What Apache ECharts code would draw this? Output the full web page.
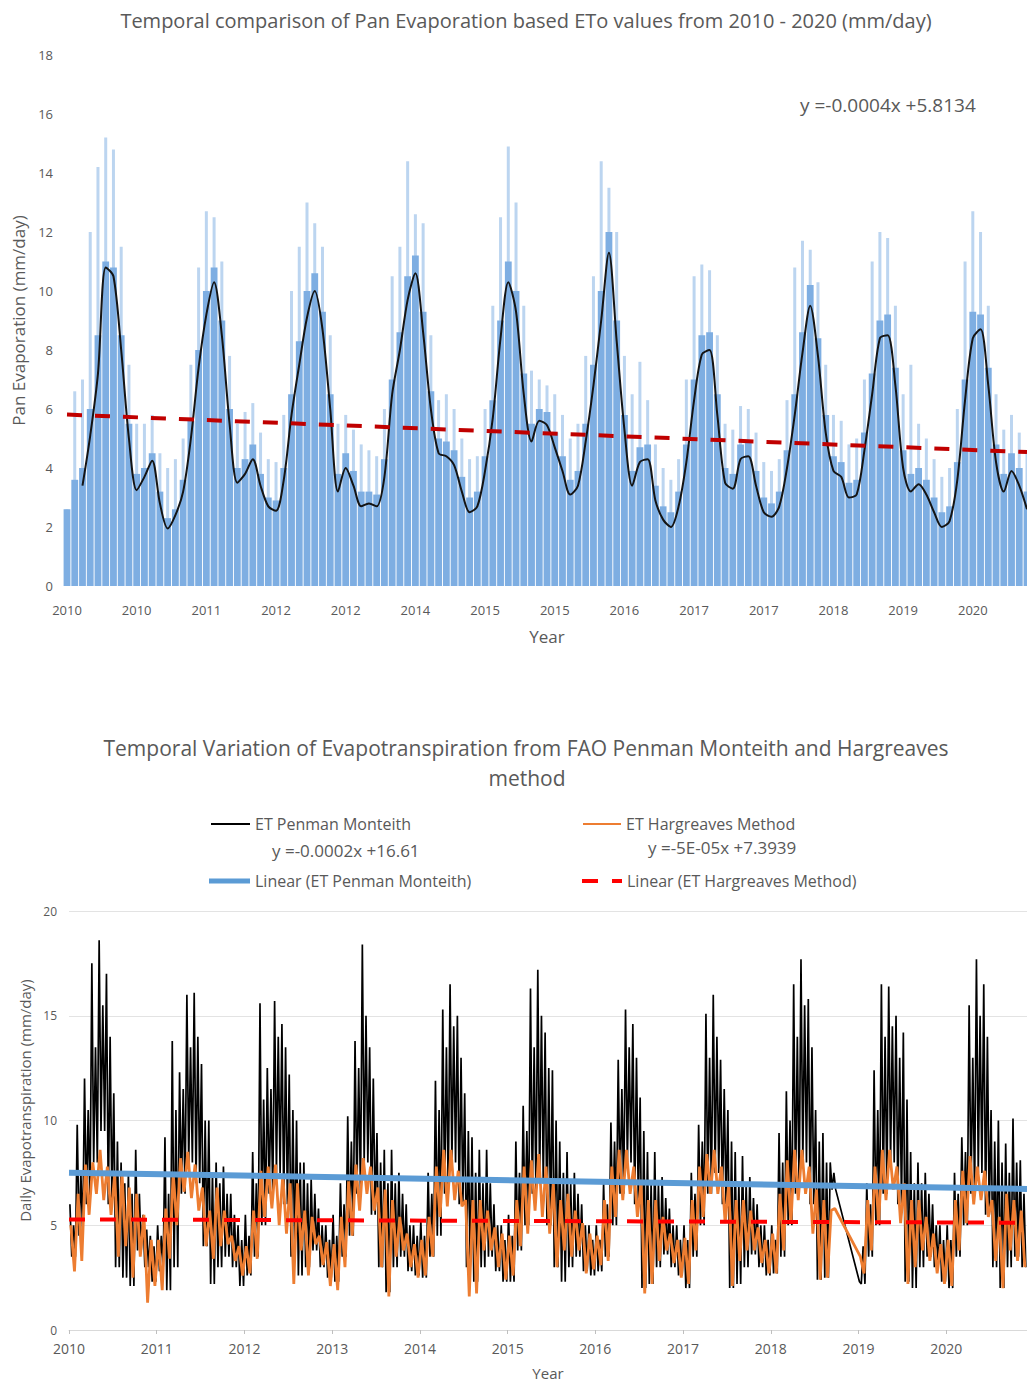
<!DOCTYPE html>
<html lang="en">
<head>
    <meta charset="UTF-8">
    <title>Evapotranspiration 2010 - 2020</title>
    <script src="https://cdn.jsdelivr.net/npm/echarts@6/dist/echarts.min.js"></script>
    <style>
        body {margin: 0; background: #fff;}
        #main {width: 1027px; height: 1385px;}
    </style>
</head>
<body>
<div id="main"></div>
<script>
    // ---- top chart: pan evaporation, one sample every ~7.7 px of the axis ----
    var panTicks = ['2010', '2010', '2011', '2012', '2012', '2014', '2015', '2015', '2016', '2017', '2017', '2018', '2019', '2020'];
    // dense blue columns
    var panBar = [
        2.6, 3.6, 4.0, 6.0, 8.5, 11.0, 10.8, 8.5, 5.5, 3.8,
        4.0, 4.5, 3.2, 2.3, 2.6, 3.6, 5.6, 8.0, 10.0, 10.8,
        9.0, 6.0, 4.0, 4.3, 4.8, 3.8, 3.0, 2.9, 4.0, 6.5,
        8.3, 10.0, 10.6, 9.3, 6.5, 3.8, 4.5, 3.9, 3.2, 3.2,
        3.1, 4.3, 7.0, 8.6, 10.5, 11.2, 9.3, 6.6, 5.0, 4.9,
        4.6, 3.7, 3.0, 3.2, 4.4, 6.3, 9.0, 11.0, 10.0, 7.2,
        5.5, 6.0, 5.9, 5.2, 4.4, 3.6, 3.9, 5.5, 7.5, 10.0,
        12.0, 9.0, 5.8, 3.9, 4.7, 4.8, 3.4, 2.7, 2.5, 3.2,
        4.8, 7.0, 8.5, 8.6, 6.5, 4.0, 3.8, 4.8, 4.9, 3.9,
        3.0, 2.8, 3.2, 4.6, 6.5, 8.6, 10.2, 8.4, 5.8, 4.4,
        4.2, 3.5, 3.6, 5.2, 7.2, 9.0, 9.2, 7.4, 4.6, 3.8,
        4.0, 3.6, 3.0, 2.5, 2.7, 4.2, 7.0, 9.3, 9.2, 7.4,
        4.8, 3.8, 4.5, 4.0, 3.2
    ];
    // faint daily spikes above the columns
    var panPeak = [
        2.6, 6.6, 7.0, 12.0, 14.2, 15.2, 14.8, 11.5, 7.5, 5.5,
        5.5, 5.8, 4.5, 4.0, 4.3, 5.0, 7.5, 10.8, 12.7, 12.5,
        11.0, 7.8, 5.5, 5.9, 6.2, 5.2, 4.3, 4.2, 5.8, 10.0,
        11.5, 13.0, 12.3, 11.5, 8.5, 5.5, 5.8, 5.3, 4.8, 4.6,
        4.4, 6.0, 10.5, 11.5, 14.4, 12.6, 12.3, 8.5, 6.3, 6.5,
        6.0, 5.0, 4.3, 4.4, 6.0, 9.5, 12.5, 14.9, 13.0, 9.5,
        7.3, 7.0, 6.8, 6.5, 5.8, 5.0, 5.5, 7.8, 10.5, 14.4,
        13.5, 12.0, 7.8, 6.5, 7.6, 6.3, 4.8, 4.0, 3.6, 4.3,
        7.0, 10.5, 10.9, 10.7, 8.5, 5.5, 5.3, 6.1, 6.0, 5.2,
        4.2, 3.9, 4.3, 6.3, 10.8, 11.7, 11.4, 10.3, 7.5, 5.8,
        5.6, 4.8, 5.0, 7.0, 11.0, 12.0, 11.8, 9.5, 6.5, 7.5,
        5.5, 5.0, 4.3, 3.7, 4.0, 6.0, 11.0, 12.7, 12.0, 9.5,
        6.5, 5.3, 5.8, 5.2, 4.5
    ];
    // black moving average
    var panAvg = [
        null, null, 3.4, 5.1, 7.2, 10.8, 10.5, 8.0, 5.0, 3.25,
        3.7, 4.25, 2.8, 1.95, 2.4, 3.2, 5.0, 7.4, 9.2, 10.3,
        8.5, 5.5, 3.5, 3.8, 4.3, 3.4, 2.7, 2.55, 3.6, 5.8,
        7.5, 9.1, 10.0, 8.7, 6.0, 3.2, 4.0, 3.4, 2.7, 2.8,
        2.7, 3.7, 6.5, 8.0, 9.7, 10.6, 8.6, 6.0, 4.5, 4.4,
        4.1, 3.2, 2.5, 2.7, 3.9, 5.7, 8.4, 10.3, 9.3, 6.5,
        4.9, 5.6, 5.45, 4.7, 3.9, 3.1, 3.4, 4.9, 6.8, 9.0,
        11.3, 8.3, 5.3, 3.4, 4.2, 4.3, 2.9, 2.25, 2.0, 2.7,
        4.2, 6.3, 7.85, 8.0, 5.8, 3.5, 3.3, 4.3, 4.4, 3.4,
        2.5, 2.35, 2.7, 4.0, 5.8, 7.9, 9.5, 7.8, 5.2, 3.9,
        3.7, 3.0, 3.1, 4.6, 6.5, 8.4, 8.5, 6.8, 4.0, 3.2,
        3.45, 3.1, 2.5, 2.0, 2.2, 3.6, 6.3, 8.4, 8.7, 6.8,
        4.2, 3.2, 3.9, 3.4, 2.6
    ];
    var panTrend = [5.81, 4.54];   // linear fit at first / last sample

    // ---- bottom chart: monthly high / typical / low of the daily values ----
    var etTicks = ['2010', '2011', '2012', '2013', '2014', '2015', '2016', '2017', '2018', '2019', '2020'];
    var etEnd = 2020.92;
    var pmHi = [
        [6.0, 9.8, 12.0, 17.5, 18.6, 17.0, 11.3, 8.0, 7.5, 8.6, 5.5, 4.5],
        [5.0, 9.2, 13.8, 12.3, 16.0, 16.1, 12.7, 10.0, 8.0, 7.8, 6.5, 5.0],
        [5.5, 8.5, 15.6, 12.5, 15.7, 14.6, 12.2, 10.0, 8.0, 7.2, 5.8, 5.0],
        [5.5, 7.0, 10.2, 13.8, 18.4, 13.5, 9.4, 8.6, 8.6, 7.5, 6.0, 5.0],
        [5.2, 7.5, 11.9, 15.3, 16.5, 15.0, 11.3, 9.2, 8.6, 8.6, 6.0, 5.0],
        [5.5, 9.0, 10.7, 16.3, 17.2, 14.2, 12.4, 9.0, 8.5, 7.5, 6.0, 5.0],
        [5.0, 7.0, 9.9, 12.9, 15.3, 14.6, 11.1, 8.5, 8.5, 7.3, 5.8, 5.0],
        [5.0, 7.5, 9.8, 15.1, 16.0, 12.9, 10.5, 8.5, 8.3, 7.3, 6.0, 5.0],
        [5.0, 9.4, 11.4, 16.5, 17.7, 15.8, 10.5, 9.4, 8.0, null, null, null],
        [2.3, 7.0, 12.4, 16.5, 16.4, 15.0, 14.2, 8.5, 8.0, 7.5, 6.0, 5.0],
        [5.0, 7.5, 9.2, 15.5, 17.7, 16.5, 10.5, 10.0, 8.9, 10.1, 8.1]
    ];
    var pmMid = [
        [5.0, 7.5, 10.5, 13.5, 15.5, 14.0, 9.0, 7.0, 6.5, 6.5, 4.8, 4.0],
        [4.5, 6.5, 10.5, 11.5, 13.5, 14.0, 10.0, 7.5, 7.0, 6.5, 5.5, 4.3],
        [4.5, 7.0, 11.0, 11.5, 14.0, 13.5, 10.5, 8.0, 7.0, 6.5, 5.0, 4.3],
        [4.5, 6.0, 9.0, 12.5, 15.0, 12.0, 8.0, 7.0, 7.0, 6.5, 5.0, 4.5],
        [4.5, 6.5, 10.5, 13.5, 14.5, 13.0, 9.5, 7.5, 7.0, 7.0, 5.0, 4.3],
        [4.5, 7.5, 9.5, 13.5, 15.0, 12.5, 10.0, 7.5, 7.0, 6.5, 5.0, 4.3],
        [4.3, 6.0, 9.0, 11.5, 13.5, 13.0, 9.5, 7.0, 7.0, 6.3, 5.0, 4.3],
        [4.3, 6.5, 9.0, 13.0, 14.0, 11.5, 9.0, 7.0, 7.0, 6.3, 5.0, 4.3],
        [4.3, 8.0, 10.0, 14.0, 15.5, 13.5, 9.0, 8.0, 7.5, null, null, null],
        [4.0, 6.0, 10.5, 14.0, 14.5, 13.0, 11.0, 7.0, 7.0, 6.5, 5.0, 4.3],
        [4.3, 6.5, 8.5, 13.0, 15.0, 14.0, 9.0, 8.0, 7.5, 8.0, 6.5]
    ];
    var pmLo = [
        [3.5, 4.5, 6.0, 8.0, 9.5, 6.0, 3.0, 2.5, 2.1, 3.8, 3.0, 2.3],
        [2.8, 1.9, 3.0, 6.5, 8.0, 7.0, 4.0, 2.2, 3.0, 3.5, 3.0, 2.1],
        [2.6, 3.5, 5.0, 6.5, 7.5, 6.0, 3.5, 2.6, 3.0, 3.8, 3.0, 2.5],
        [2.3, 3.5, 4.5, 6.5, 8.0, 5.5, 3.0, 1.8, 3.0, 3.5, 2.8, 2.6],
        [2.5, 3.5, 4.5, 6.5, 8.0, 6.0, 3.0, 2.3, 3.0, 3.5, 2.8, 2.3],
        [2.3, 3.8, 5.0, 6.5, 7.0, 5.0, 3.0, 2.3, 3.0, 3.5, 2.8, 2.6],
        [2.8, 3.5, 5.0, 6.5, 8.0, 6.0, 2.0, 2.2, 3.0, 3.6, 3.0, 2.6],
        [2.0, 3.5, 5.0, 6.5, 7.5, 6.0, 2.0, 2.2, 3.0, 3.6, 3.0, 2.6],
        [2.7, 3.5, 5.0, 6.5, 8.0, 6.0, 2.4, 2.5, 6.7, null, null, null],
        [2.2, 3.5, 5.0, 6.5, 8.0, 6.0, 2.3, 2.0, 3.0, 3.5, 3.0, 2.3],
        [2.0, 3.5, 5.0, 6.5, 7.5, 5.5, 3.0, 2.0, 3.0, 3.5, 3.0]
    ];
    var hgHi = [
        [5.0, 6.5, 7.9, 8.0, 8.6, 7.8, 7.4, 7.5, 6.8, 6.5, 5.5, 4.3],
        [4.3, 5.8, 7.5, 8.2, 8.5, 7.9, 6.8, 5.7, 6.8, 5.7, 4.5, 4.0],
        [4.0, 5.7, 7.6, 7.8, 7.9, 7.4, 7.0, 7.0, 5.7, 5.4, 4.5, 4.2],
        [4.1, 5.4, 7.1, 7.9, 8.2, 7.8, 6.8, 6.7, 6.2, 5.4, 4.6, 4.1],
        [4.3, 5.4, 7.8, 8.6, 8.6, 7.6, 6.2, 6.2, 6.2, 5.7, 4.9, 4.6],
        [4.5, 6.2, 7.8, 8.1, 8.4, 7.8, 7.0, 6.2, 6.5, 5.7, 5.1, 4.6],
        [4.5, 6.2, 7.8, 8.6, 8.6, 7.8, 7.0, 6.2, 6.2, 5.4, 4.6, 4.3],
        [4.4, 6.2, 7.8, 8.4, 8.6, 7.8, 7.0, 6.2, 6.2, 5.7, 4.9, 4.3],
        [4.6, 6.5, 8.1, 8.6, 8.6, 7.8, 6.7, 6.2, 5.7, null, null, null],
        [3.5, 6.2, 7.8, 8.6, 8.6, 7.8, 7.0, 6.2, 6.2, 5.4, 4.6, 4.1],
        [4.3, 6.2, 7.6, 8.3, 7.8, 7.6, 6.2, 5.4, 6.5, 6.2, 5.7]
    ];
    var hgLo = [
        [2.8, 3.3, 5.5, 6.5, 6.2, 5.5, 3.5, 4.0, 2.5, 3.5, 1.3, 2.1],
        [1.9, 3.4, 5.0, 6.6, 6.3, 5.7, 4.0, 3.4, 4.0, 4.1, 3.3, 2.6],
        [2.7, 3.4, 5.4, 5.8, 5.0, 4.6, 2.2, 3.8, 2.6, 4.1, 3.1, 2.1],
        [1.9, 3.0, 4.5, 5.7, 6.5, 5.7, 3.0, 1.6, 3.5, 3.8, 3.0, 2.5],
        [2.6, 3.5, 5.4, 5.9, 6.2, 5.9, 1.6, 1.75, 3.8, 3.8, 3.0, 2.4],
        [2.6, 4.0, 4.6, 5.7, 5.4, 4.6, 3.0, 3.8, 3.5, 3.8, 2.7, 2.9],
        [3.1, 3.3, 5.4, 6.2, 6.5, 5.4, 1.75, 2.2, 3.3, 3.8, 3.2, 2.5],
        [2.2, 3.8, 5.4, 6.5, 6.5, 5.1, 2.1, 3.3, 3.8, 3.8, 3.2, 2.7],
        [2.7, 3.8, 5.1, 6.2, 6.5, 4.6, 2.4, 2.5, 5.8, null, null, null],
        [2.7, 3.8, 5.1, 6.2, 6.7, 5.1, 2.2, 3.0, 3.8, 3.3, 2.7, 2.2],
        [2.1, 3.8, 5.1, 6.0, 6.2, 5.4, 3.3, 2.0, 3.8, 3.3, 3.0]
    ];
    var pmTrend = [7.51, 6.73];
    var hgTrend = [5.28, 5.12];

    // walk through each month in turn over the read levels, so the line zigzags like daily data
    function monthPoints(levels) {
        var pts = [];
        var years = levels[0];
        for (var y = 0; y < years.length; y++) {
            for (var m = 0; m < years[y].length; m++) {
                var x0 = 2010 + y + m / 12;
                for (var k = 0; k < levels.length; k++) {
                    var v = levels[k][y][m];
                    pts.push([x0 + (k + 0.5) / (12 * levels.length), v == null ? '-' : v]);
                }
            }
        }
        return pts;
    }

    var panIdx = [];
    for (var i = 0; i < panBar.length; i++) {
        panIdx.push(String(i));
    }
    var last = panBar.length - 1;

    var grey = '#595959';
    var font = 'Open Sans';

    function label(x, y, text, size, align) {
        return {type: 'text', x: x, y: y, style: {text: text, fontSize: size, fontFamily: font, fill: grey,
            textAlign: align, align: align, textVerticalAlign: 'middle', verticalAlign: 'middle'}};
    }

    var legendText = {fontSize: 16, color: grey, fontFamily: font};

    var chart = echarts.init(document.getElementById('main'), null, {renderer: 'svg'});
    var option = {
        animation: false,
        backgroundColor: '#fff',
        textStyle: {fontFamily: font, color: grey},
        graphic: [
            label(526, 20, 'Temporal comparison of Pan Evaporation based ETo values from 2010 - 2020 (mm/day)', 20, 'center'),
            label(800, 105, 'y =-0.0004x +5.8134', 19, 'left'),
            label(526, 748, 'Temporal Variation of Evapotranspiration from FAO Penman Monteith and Hargreaves', 21, 'center'),
            label(527, 778, 'method', 21, 'center'),
            label(272, 850, 'y =-0.0002x +16.61', 17, 'left'),
            label(648, 847, 'y =-5E-05x +7.3939', 17, 'left')
        ],
        legend: [
            {data: [{name: 'ET Penman Monteith', icon: 'rect'}], left: 211, top: 816, padding: 0,
                itemWidth: 39, itemHeight: 2, itemStyle: {borderWidth: 0}, textStyle: legendText},
            {data: [{name: 'Linear (ET Penman Monteith)', icon: 'rect'}], left: 209, top: 873, padding: 0,
                itemWidth: 41, itemHeight: 5, itemStyle: {borderWidth: 0}, textStyle: legendText},
            {data: [{name: 'ET Hargreaves Method', icon: 'rect'}], left: 583, top: 816, padding: 0,
                itemWidth: 38, itemHeight: 2, itemStyle: {borderWidth: 0}, textStyle: legendText},
            {data: [{name: 'Linear (ET Hargreaves Method)', icon: 'path://M0,0H16V4H0Z M30,0H40V4H30Z'}], left: 582, top: 873, padding: 0,
                itemWidth: 40, itemHeight: 4, itemStyle: {borderWidth: 0}, textStyle: legendText}
        ],
        grid: [
            {left: 67, top: 55, right: 0, height: 531},
            {left: 69, top: 911, right: 0, height: 419}
        ],
        xAxis: [
            {
                gridIndex: 0, type: 'category', data: panIdx, boundaryGap: false,
                name: 'Year', nameLocation: 'middle', nameGap: 42,
                nameTextStyle: {fontSize: 17, color: grey, fontFamily: font},
                axisLine: {show: false}, axisTick: {show: false},
                axisLabel: {interval: 8, margin: 17, fontSize: 13, color: grey, fontFamily: font,
                    formatter: function (v, i) { return panTicks[i / 9] || ''; }}
            },
            {
                gridIndex: 1, type: 'value', min: 2010, max: etEnd, interval: 1,
                name: 'Year', nameLocation: 'middle', nameGap: 35,
                nameTextStyle: {fontSize: 15, color: grey, fontFamily: font},
                splitLine: {show: false},
                axisLine: {lineStyle: {color: '#d9d9d9'}},
                axisTick: {show: true, length: 4, lineStyle: {color: '#bfbfbf'}},
                axisLabel: {margin: 11, fontSize: 14, color: grey, fontFamily: font, showMaxLabel: false,
                    formatter: function (v) { return v % 1 === 0 ? etTicks[v - 2010] : ''; }}
            },
            // hidden twin of the top axis so the thin spikes sit centred on each column
            {gridIndex: 0, type: 'category', data: panIdx, boundaryGap: false, show: false}
        ],
        yAxis: [
            {
                gridIndex: 0, type: 'value', min: 0, max: 18, interval: 2,
                name: 'Pan Evaporation (mm/day)', nameLocation: 'middle', nameGap: 38,
                nameTextStyle: {fontSize: 17, color: grey, fontFamily: font},
                splitLine: {show: false}, axisLine: {show: false}, axisTick: {show: false},
                axisLabel: {margin: 14, fontSize: 13, color: grey, fontFamily: font}
            },
            {
                gridIndex: 1, type: 'value', min: 0, max: 20, interval: 5,
                name: 'Daily Evapotranspiration (mm/day)', nameLocation: 'middle', nameGap: 33,
                nameTextStyle: {fontSize: 15, color: grey, fontFamily: font, padding: [0, 0, 0, 40]},
                splitLine: {lineStyle: {color: '#e3e3e3'}}, axisLine: {show: false}, axisTick: {show: false},
                axisLabel: {margin: 12, fontSize: 12, color: grey, fontFamily: font}
            }
        ],
        series: [
            // top chart
            {name: 'Pan spikes', type: 'bar', xAxisIndex: 2, yAxisIndex: 0, data: panPeak,
                barWidth: 3, itemStyle: {color: '#bcd5f0'}, silent: true},
            {name: 'Pan Evaporation', type: 'bar', xAxisIndex: 0, yAxisIndex: 0, data: panBar,
                barCategoryGap: '12%', itemStyle: {color: '#7eaee2'}, silent: true},
            {name: 'Moving average', type: 'line', xAxisIndex: 0, yAxisIndex: 0, data: panAvg,
                smooth: 0.3, symbol: 'none', lineStyle: {color: '#141414', width: 2}, itemStyle: {color: '#141414'}},
            {name: 'Linear (Pan Evaporation)', type: 'line', xAxisIndex: 0, yAxisIndex: 0,
                data: [[0, panTrend[0]], [last, panTrend[1]]], symbol: 'none',
                lineStyle: {color: '#c00000', width: 4, type: [15, 13]}, itemStyle: {color: '#c00000'}},
            // bottom chart
            {name: 'ET Penman Monteith', type: 'line', xAxisIndex: 1, yAxisIndex: 1,
                data: monthPoints([pmHi, pmLo, pmMid, pmLo]),
                symbol: 'none', connectNulls: true, lineStyle: {color: '#000', width: 1.7}, itemStyle: {color: '#000'}},
            {name: 'ET Hargreaves Method', type: 'line', xAxisIndex: 1, yAxisIndex: 1,
                data: monthPoints([hgHi, hgLo]),
                symbol: 'none', connectNulls: true, lineStyle: {color: '#ed7d31', width: 2.8}, itemStyle: {color: '#ed7d31'}},
            {name: 'Linear (ET Penman Monteith)', type: 'line', xAxisIndex: 1, yAxisIndex: 1,
                data: [[2010, pmTrend[0]], [etEnd, pmTrend[1]]], symbol: 'none',
                lineStyle: {color: '#5b9bd5', width: 6}, itemStyle: {color: '#5b9bd5'}},
            {name: 'Linear (ET Hargreaves Method)', type: 'line', xAxisIndex: 1, yAxisIndex: 1,
                data: [[2010, hgTrend[0]], [etEnd, hgTrend[1]]], symbol: 'none',
                lineStyle: {color: '#ff0000', width: 4, type: [16, 15]}, itemStyle: {color: '#ff0000'}}
        ]
    };
    chart.setOption(option);
</script>
</body>
</html>
